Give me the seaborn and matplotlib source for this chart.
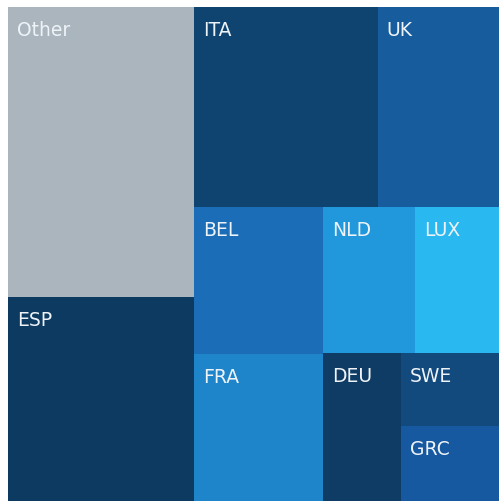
import matplotlib
matplotlib.use("Agg")
import matplotlib.pyplot as plt
import seaborn as sns
from matplotlib.patches import Rectangle

# Country shares (relative sizes of the treemap cells)
countries = ["Other", "ESP", "ITA", "UK", "BEL", "FRA", "NLD", "LUX", "DEU", "SWE", "GRC"]
values = [53940, 37944, 36800, 24200, 18963, 18963, 13340, 12180, 11544, 7154, 7350]
colors = ["#aab5bd", "#0d3a60", "#0f4470", "#175d9e", "#1c6db8", "#1e85cb",
          "#2198db", "#2ab8f0", "#0f3c64", "#134a7e", "#1659a0"]


def worst(row, side):
    s = sum(row)
    return max(max(side * side * r / (s * s), (s * s) / (side * side * r)) for r in row)


def layout_row(row, x, y, w, h, vertical):
    s = sum(row)
    rects = []
    if vertical:
        # stack the row as a column on the left
        cw = s / h
        cy = y
        for r in row:
            rh = r / cw
            rects.append((x, cy, cw, rh))
            cy += rh
        return rects, (x + cw, y, w - cw, h)
    # lay the row along the top
    rh = s / w
    cx = x
    for r in row:
        rw = r / rh
        rects.append((cx, y, rw, rh))
        cx += rw
    return rects, (x, y + rh, w, h - rh)


def squarify(sizes, x, y, w, h):
    """Squarified treemap whose rows alternate between columns and rows."""
    rects = []
    sizes = list(sizes)
    vertical = True
    while sizes:
        side = h if vertical else w
        row = [sizes.pop(0)]
        while sizes and worst(row + [sizes[0]], side) <= worst(row, side):
            row.append(sizes.pop(0))
        r, (x, y, w, h) = layout_row(row, x, y, w, h, vertical)
        rects.extend(r)
        vertical = not vertical
    return rects


W_PX, H_PX = 499, 502
LEFT, TOP = 8, 8
area_w, area_h = W_PX - LEFT, H_PX - TOP

total = sum(values)
scaled = [v * area_w * area_h / total for v in values]
cells = squarify(scaled, 0, 0, area_w, area_h)

sns.set_theme(style="white")
fig = plt.figure(figsize=(W_PX / 100, H_PX / 100), dpi=100)
fig.patch.set_facecolor("white")
ax = fig.add_axes([LEFT / W_PX, 0, area_w / W_PX, area_h / H_PX])
ax.set_xlim(0, area_w)
ax.set_ylim(area_h, 0)
ax.set_axis_off()

for name, (x, y, w, h), c in zip(countries, cells, colors):
    ax.add_patch(Rectangle((x, y), w, h, facecolor=c, edgecolor="none"))
    ax.annotate(name, (x, y), xytext=(6.3, -9.3), textcoords="offset points",
                ha="left", va="top", color="#eef3f8", fontsize=13.5,
                family=["DejaVu Sans"])

fig.savefig("out.png", dpi=100, facecolor="white")
